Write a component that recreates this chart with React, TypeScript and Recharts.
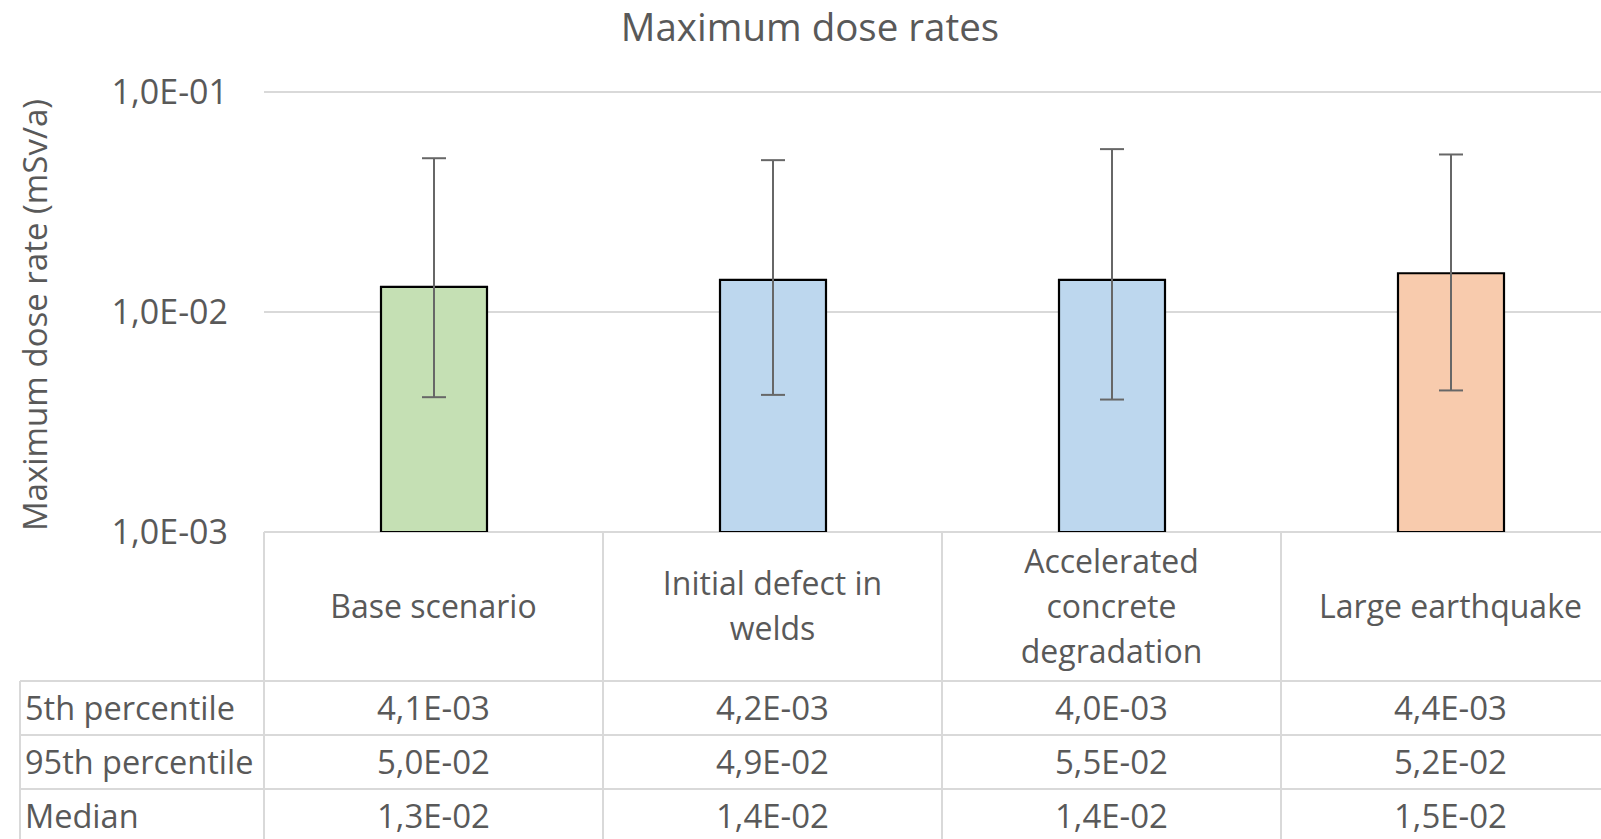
import { BarChart, Bar, XAxis, YAxis, CartesianGrid, Cell, ErrorBar } from 'recharts';

const categories = ['Base scenario', 'Initial defect in welds', 'Accelerated concrete degradation', 'Large earthquake'];
const headerLines = [['Base scenario'], ['Initial defect in', 'welds'], ['Accelerated', 'concrete', 'degradation'], ['Large earthquake']];
const p5 = [0.0041, 0.0042, 0.004, 0.0044];
const p95 = [0.05, 0.049, 0.055, 0.052];
const median = [0.013, 0.014, 0.014, 0.015];
const barColors = ['#C5E0B4', '#BDD7EE', '#BDD7EE', '#F8CBAD'];
const yTicks = [0.001, 0.01, 0.1];
const rowLabels = ['5th percentile', '95th percentile', 'Median'];

const CHART_W = 1620;
const CHART_H = 839;
const Y_AXIS_W = 264;
const X_AXIS_H = 307;
const TOP = 92;
const TEXT = '#595959';
const LINE = '#D9D9D9';
const FONT = '"Open Sans", sans-serif';

const fmt = (v: number) => {
  const [m, e] = v.toExponential(1).split('e');
  const n = parseInt(e, 10);
  return `${m.replace('.', ',')}E${n < 0 ? '-' : '+'}${String(Math.abs(n)).padStart(2, '0')}`;
};

const data = categories.map((name, i) => ({
  name,
  median: median[i],
  err: [median[i] - p5[i], p95[i] - median[i]],
}));

const rows = [p5, p95, median];

// draws one column of the data table under the plot
const TableTick = (props: any) => {
  const { x, y, index } = props;
  const band = (CHART_W - Y_AXIS_W) / categories.length;
  const left = x - band / 2;
  const right = x + band / 2;
  const headH = 149;
  const rowH = 54;
  const lines = headerLines[index];
  const headMid = y + headH / 2 - 1.5;
  return (
    <g fontFamily={FONT} fill={TEXT}>
      <line x1={left} x2={left} y1={y} y2={CHART_H} stroke={LINE} strokeWidth={2} />
      {[0, 1, 2].map((r) => (
        <line key={r} x1={left} x2={right} y1={y + headH + r * rowH} y2={y + headH + r * rowH} stroke={LINE} strokeWidth={2} />
      ))}
      {lines.map((t, k) => (
        <text key={k} x={x} y={headMid + (k - (lines.length - 1) / 2) * 45} textAnchor="middle" dominantBaseline="central" fontSize={32} fill={TEXT}>
          {t}
        </text>
      ))}
      {rows.map((arr, r) => (
        <text key={r} x={x} y={y + headH + r * rowH + rowH / 2 - 1} textAnchor="middle" dominantBaseline="central" fontSize={33} fill={TEXT}>
          {fmt(arr[index])}
        </text>
      ))}
      {index === 0 && (
        <g>
          <line x1={20} x2={20} y1={y + headH} y2={CHART_H} stroke={LINE} strokeWidth={2} />
          {[0, 1, 2].map((r) => (
            <line key={r} x1={20} x2={left} y1={y + headH + r * rowH} y2={y + headH + r * rowH} stroke={LINE} strokeWidth={2} />
          ))}
          {rowLabels.map((t, r) => (
            <text key={r} x={25} y={y + headH + r * rowH + rowH / 2 - 1} dominantBaseline="central" fontSize={32.5} fill={TEXT}>
              {t}
            </text>
          ))}
        </g>
      )}
    </g>
  );
};

export default function App() {
  return (
    <div style={{ position: 'absolute', left: 0, top: 0, width: 1601, height: 839, overflow: 'hidden', background: '#fff' }}>
      <div style={{ position: 'absolute', left: 0, top: 0, width: CHART_W, height: CHART_H }}>
        <BarChart width={CHART_W} height={CHART_H} data={data} margin={{ top: TOP, right: 0, left: 0, bottom: 0 }}>
          <CartesianGrid horizontal vertical={false} stroke={LINE} strokeWidth={2} />
          <XAxis
            dataKey="name"
            height={X_AXIS_H}
            interval={0}
            tickLine={false}
            axisLine={false}
            tickSize={0}
            tickMargin={0}
            tick={<TableTick />}
          />
          <YAxis
            scale="log"
            type="number"
            domain={[0.001, 0.1]}
            ticks={yTicks}
            allowDataOverflow
            width={Y_AXIS_W}
            tickLine={false}
            axisLine={false}
            tickSize={0}
            tickMargin={36}
            tickFormatter={fmt}
            tick={{ fontFamily: FONT, fontSize: 34, fill: TEXT }}
          />
          <Bar dataKey="median" barSize={106} stroke="#000" strokeWidth={2.2} isAnimationActive={false}>
            {data.map((d, i) => (
              <Cell key={d.name} fill={barColors[i]} />
            ))}
            <ErrorBar dataKey="err" width={12} stroke="#676767" strokeWidth={2} isAnimationActive={false} />
          </Bar>
        </BarChart>
      </div>
      <div style={{ position: 'absolute', left: 0, top: 0, width: CHART_W, textAlign: 'center', fontFamily: FONT, fontSize: 38.5, color: TEXT, lineHeight: 'normal' }}>
        Maximum dose rates
      </div>
      <div
        style={{
          position: 'absolute',
          left: 34,
          top: 315,
          transform: 'translate(-50%, -50%) rotate(-90deg)',
          whiteSpace: 'nowrap',
          fontFamily: FONT,
          fontSize: 33,
          color: TEXT,
        }}
      >
        Maximum dose rate (mSv/a)
      </div>
    </div>
  );
}
